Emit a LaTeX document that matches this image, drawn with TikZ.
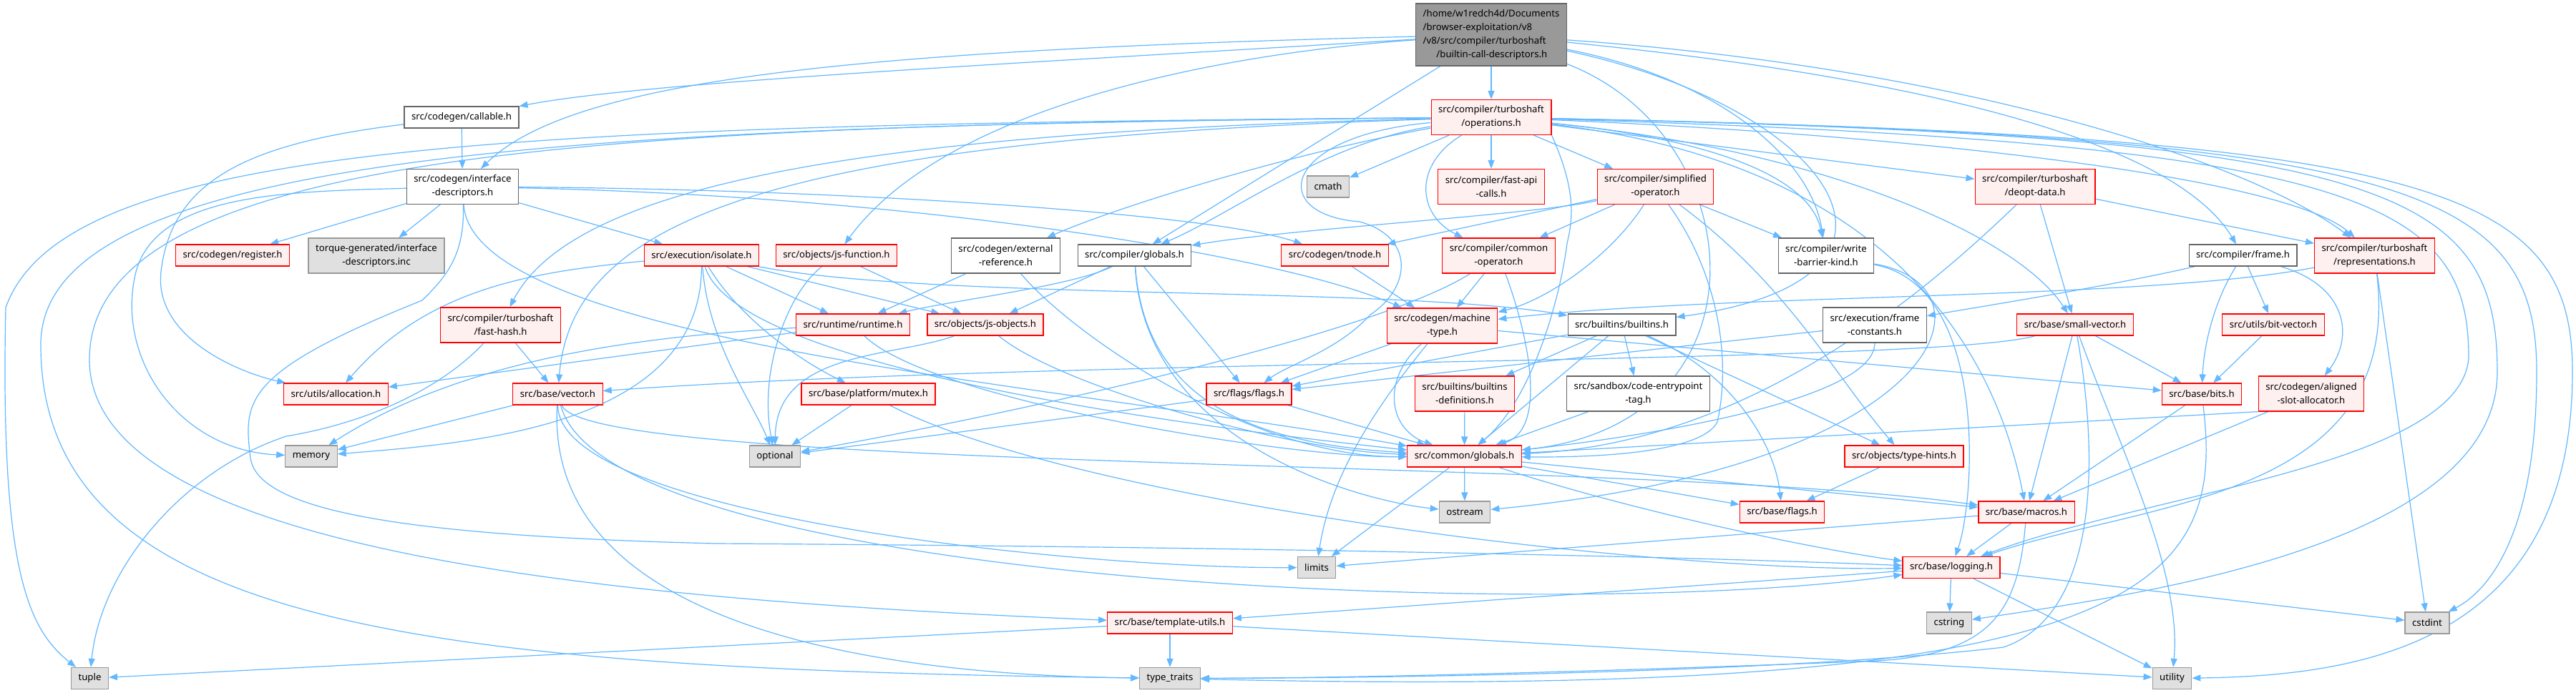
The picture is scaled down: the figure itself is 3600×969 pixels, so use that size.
\documentclass[tikz,border=0pt]{standalone}
\usepackage{fontspec}
\usepackage{tikz}
\usetikzlibrary{arrows.meta}
\newfontfamily\doxyfont{Noto Sans}
\definecolor{incEdge}{HTML}{63B8FF}
\definecolor{hdrFill}{HTML}{FFF0F0}
\definecolor{hdrLine}{HTML}{FF0000}
\definecolor{sysFill}{HTML}{E0E0E0}
\definecolor{sysLine}{HTML}{999999}
\definecolor{plainLine}{HTML}{666666}
\definecolor{rootFill}{HTML}{999999}
\pgfdeclarelayer{edges}
\pgfsetlayers{edges,main}

\begin{document}
\begin{tikzpicture}[x=0.5pt,y=-0.5pt,
  box/.style={draw, line width=0.6pt, inner xsep=5pt, inner ysep=1pt, minimum height=15pt,
    align=center, font=\doxyfont\fontsize{6.6}{9.5}\selectfont},
  hdrbox/.style={box, draw=hdrLine, fill=hdrFill},
  sysbox/.style={box, draw=sysLine, fill=sysFill},
  plainbox/.style={box, draw=plainLine, fill=white},
  rootbox/.style={box, draw=plainLine, fill=rootFill, align=left, minimum height=43.5pt},
  twoline/.style={minimum height=24.5pt},
  incl/.style={draw=incEdge, line width=0.6pt, -{Triangle[length=6pt,width=4.5pt]}}]
\useasboundingbox (0,0) rectangle (3600,969);

\node[rootbox] (root) at (2084,48.5) {/home/w1redch4d/Documents\\/browser-exploitation/v8\\/v8/src/compiler/turboshaft\\\hspace*{9.4pt}/builtin-call-descriptors.h};
\node[hdrbox, twoline] (ops) at (2084,164) {src/compiler/turboshaft\\/operations.h};
\node[plainbox] (callable) at (645,164) {src/codegen/callable.h};
\node[plainbox, twoline] (ifdesc) at (646.5,261) {src/codegen/interface\\-descriptors.h};
\node[hdrbox] (register) at (325,357) {src/codegen/register.h};
\node[sysbox, twoline] (torque) at (526,357.5) {torque-generated/interface\\-descriptors.inc};
\node[hdrbox, twoline] (fasthash) at (699.5,454.5) {src/compiler/turboshaft\\/fast-hash.h};
\node[hdrbox] (isolate) at (980.5,357) {src/execution/isolate.h};
\node[hdrbox] (jsfunc) at (1169,357) {src/objects/js-function.h};
\node[plainbox, twoline] (extref) at (1405.5,357.5) {src/codegen/external\\-reference.h};
\node[plainbox] (compglob) at (1585.5,357) {src/compiler/globals.h};
\node[hdrbox] (tnode) at (1865.5,357) {src/codegen/tnode.h};
\node[sysbox] (cmath) at (1856,261) {cmath};
\node[hdrbox, twoline] (fastapi) at (2084,261) {src/compiler/fast-api\\-calls.h};
\node[hdrbox, twoline] (simplop) at (2313.5,261) {src/compiler/simplified\\-operator.h};
\node[hdrbox, twoline] (commonop) at (2094.5,357.5) {src/compiler/common\\-operator.h};
\node[plainbox, twoline] (wbarrier) at (2552,357.5) {src/compiler/write\\-barrier-kind.h};
\node[hdrbox, twoline] (deopt) at (2844,261) {src/compiler/turboshaft\\/deopt-data.h};
\node[plainbox] (frame) at (3134.5,357) {src/compiler/frame.h};
\node[hdrbox, twoline] (repr) at (3318.5,357.5) {src/compiler/turboshaft\\/representations.h};
\node[hdrbox] (runtime) at (1192,454) {src/runtime/runtime.h};
\node[hdrbox] (jsobj) at (1377,454) {src/objects/js-objects.h};
\node[hdrbox, twoline] (mtype) at (2015.5,455.5) {src/codegen/machine\\-type.h};
\node[plainbox] (builtins) at (2266.5,454) {src/builtins/builtins.h};
\node[plainbox, twoline] (fconst) at (2620,454.5) {src/execution/frame\\-constants.h};
\node[hdrbox] (smallvec) at (2900,454) {src/base/small-vector.h};
\node[hdrbox] (bitvec) at (3177,454) {src/utils/bit-vector.h};
\node[hdrbox] (alloc) at (469.5,551) {src/utils/allocation.h};
\node[hdrbox] (vector) at (779.5,551) {src/base/vector.h};
\node[hdrbox] (mutex) at (1213.5,551) {src/base/platform/mutex.h};
\node[hdrbox] (flags) at (1745.5,551) {src/flags/flags.h};
\node[hdrbox, twoline] (bdefs) at (2047,550.5) {src/builtins/builtins\\-definitions.h};
\node[plainbox, twoline] (entrytag) at (2289.5,550.5) {src/sandbox/code-entrypoint\\-tag.h};
\node[hdrbox] (bits) at (3077,551) {src/base/bits.h};
\node[hdrbox, twoline] (aligned) at (3230,550.5) {src/codegen/aligned\\-slot-allocator.h};
\node[sysbox] (memory) at (435,638) {memory};
\node[sysbox] (optional) at (1083,638) {optional};
\node[hdrbox] (globals) at (2046.5,638) {src/common/globals.h};
\node[hdrbox] (typehints) at (2661,638) {src/objects/type-hints.h};
\node[sysbox] (ostream) at (2047,716) {ostream};
\node[hdrbox] (bflags) at (2490.5,716) {src/base/flags.h};
\node[hdrbox] (macros) at (2832,716) {src/base/macros.h};
\node[sysbox] (limits) at (1840,793.5) {limits};
\node[hdrbox] (logging) at (2727,793.5) {src/base/logging.h};
\node[hdrbox] (tutils) at (1635,871) {src/base/template-utils.h};
\node[sysbox] (cstring) at (2724,871) {cstring};
\node[sysbox] (cstdint) at (3392,871) {cstdint};
\node[sysbox] (tuple) at (125.5,948.5) {tuple};
\node[sysbox] (ttraits) at (1635,948.5) {type\_traits};
\node[sysbox] (utility) at (3035.5,948.5) {utility};

\begin{pgfonlayer}{edges}
\fill[white] (0,0) rectangle (3600,969);
\draw[incl] (root) -- (ops);
\draw[incl] (root) .. controls (1400,90) and (900,115) .. (callable);
\draw[incl] (root) .. controls (1200,70) and (800,110) .. (ifdesc);
\draw[incl] (root) .. controls (1700,75) and (1320,150) .. (jsfunc);
\draw[incl] (root) -- (compglob);
\draw[incl] (root) .. controls (2400,110) and (2530,220) .. (wbarrier);
\draw[incl] (root) .. controls (2700,110) and (3040,200) .. (frame);
\draw[incl] (root) .. controls (2750,95) and (3150,230) .. (repr);
\draw[incl] (root) .. controls (2560,150) and (2730,390) .. (builtins);
\draw[incl] (root) .. controls (2450,190) and (2480,590) .. (globals);

\draw[incl] (ops) -- (cmath);
\draw[incl] (ops) -- (fastapi);
\draw[incl] (ops) -- (simplop);
\draw[incl] (ops) .. controls (1975,230) and (1980,300) .. (commonop);
\draw[incl] (ops) .. controls (2400,195) and (2530,250) .. (wbarrier);
\draw[incl] (ops) -- (deopt);
\draw[incl] (ops) .. controls (2700,190) and (3200,250) .. (repr);
\draw[incl] (ops) .. controls (1200,185) and (800,260) .. (fasthash);
\draw[incl] (ops) .. controls (1800,215) and (1560,290) .. (extref);
\draw[incl] (ops) .. controls (1850,200) and (1720,300) .. (compglob);
\draw[incl] (ops) .. controls (1100,195) and (800,300) .. (vector);
\draw[incl] (ops) .. controls (2550,210) and (2820,330) .. (smallvec);
\draw[incl] (ops) .. controls (2650,230) and (2790,500) .. (macros);
\draw[incl] (ops.south east) .. controls (2200,260) and (2200,300) .. (2190,340) .. controls (2180,420) and (2140,560) .. (globals);
\draw[incl] (ops) .. controls (1790,190) and (1770,300) .. (1900,310) .. controls (1975,330) and (1975,400) .. (1915,440) .. controls (1870,490) and (1800,510) .. (flags);
\draw[incl] (ops) .. controls (700,175) and (90,200) .. (8,430) .. controls (0,800) and (40,880) .. (tuple);
\draw[incl] (ops) .. controls (800,175) and (60,215) .. (57,480) .. controls (55,880) and (600,935) .. (ttraits);
\draw[incl] (ops) .. controls (900,175) and (130,200) .. (125,500) .. controls (120,780) and (900,840) .. (tutils);
\draw[incl] (ops) .. controls (3300,200) and (3450,280) .. (3450,500) .. controls (3440,650) and (3000,690) .. (logging);
\draw[incl] (ops) .. controls (3330,190) and (3490,260) .. (3490,520) .. controls (3490,760) and (3000,830) .. (cstring);
\draw[incl] (ops) .. controls (3360,190) and (3545,260) .. (3545,520) .. controls (3545,760) and (3470,830) .. (cstdint);
\draw[incl] (ops) .. controls (3400,190) and (3595,260) .. (3595,520) .. controls (3595,900) and (3300,945) .. (utility);

\draw[incl] (callable) -- (ifdesc);
\draw[incl] (callable) .. controls (350,200) and (240,250) .. (225,380) .. controls (215,470) and (330,520) .. (alloc);

\draw[incl] (ifdesc) -- (register);
\draw[incl] (ifdesc) -- (torque);
\draw[incl] (ifdesc) -- (isolate);
\draw[incl] (ifdesc) .. controls (1200,265) and (1700,300) .. (tnode);
\draw[incl] (ifdesc) .. controls (1300,275) and (1800,360) .. (mtype);
\draw[incl] (ifdesc) .. controls (400,268) and (220,270) .. (190,380) .. controls (160,500) and (250,630) .. (memory);
\draw[incl] (ifdesc) .. controls (660,480) and (1500,540) .. (globals);
\draw[incl] (ifdesc) .. controls (650,360) and (620,390) .. (590,420) .. controls (340,520) and (340,560) .. (350,640) .. controls (360,720) and (600,750) .. (1000,760) .. controls (1800,765) and (2400,780) .. (logging);

\draw[incl] (fasthash) -- (vector);
\draw[incl] (fasthash) .. controls (620,540) and (520,590) .. (400,610) .. controls (250,660) and (140,800) .. (tuple);

\draw[incl] (isolate) -- (runtime);
\draw[incl] (isolate) -- (jsobj);
\draw[incl] (isolate) .. controls (1030,440) and (1110,500) .. (mutex);
\draw[incl] (isolate) .. controls (750,380) and (600,400) .. (alloc);
\draw[incl] (isolate) .. controls (980,600) and (650,620) .. (memory);
\draw[incl] (isolate) .. controls (990,480) and (1050,560) .. (optional);
\draw[incl] (isolate) .. controls (1300,420) and (1950,400) .. (builtins);
\draw[incl] (isolate) .. controls (1030,520) and (1700,600) .. (globals);

\draw[incl] (jsfunc) -- (jsobj);
\draw[incl] (jsfunc) .. controls (1100,410) and (1060,520) .. (optional);

\draw[incl] (extref) -- (runtime);
\draw[incl] (extref) .. controls (1500,470) and (1750,640) .. (globals);

\draw[incl] (compglob) .. controls (1500,400) and (1330,420) .. (runtime);
\draw[incl] (compglob) -- (jsobj);
\draw[incl] (compglob) -- (flags);
\draw[incl] (compglob) .. controls (1600,560) and (1750,620) .. (globals);
\draw[incl] (compglob) .. controls (1600,620) and (1900,700) .. (ostream);

\draw[incl] (runtime) -- (alloc);
\draw[incl] (runtime) .. controls (900,470) and (650,500) .. (memory);
\draw[incl] (runtime) .. controls (1300,560) and (1800,640) .. (globals);

\draw[incl] (jsobj) .. controls (1250,500) and (1085,490) .. (optional);
\draw[incl] (jsobj) .. controls (1480,540) and (1800,630) .. (globals);

\draw[incl] (mutex) -- (optional);
\draw[incl] (mutex) .. controls (1500,700) and (2300,800) .. (logging);

\draw[incl] (simplop) -- (commonop);
\draw[incl] (simplop) -- (wbarrier);
\draw[incl] (simplop) -- (tnode);
\draw[incl] (simplop) .. controls (2150,300) and (1800,320) .. (compglob);
\draw[incl] (simplop) .. controls (2250,360) and (2160,420) .. (mtype);
\draw[incl] (simplop) .. controls (2400,380) and (2420,500) .. (2400,590) .. controls (2380,630) and (2250,640) .. (globals);
\draw[incl] (simplop) .. controls (2500,400) and (2560,520) .. (typehints);

\draw[incl] (commonop) -- (mtype);
\draw[incl] (commonop) .. controls (2140,480) and (2160,600) .. (globals);
\draw[incl] (commonop) .. controls (1900,480) and (1300,600) .. (optional);

\draw[incl] (wbarrier) .. controls (2800,400) and (2720,650) .. (ostream);
\draw[incl] (wbarrier) .. controls (2780,400) and (2760,700) .. (logging);

\draw[incl] (deopt) -- (smallvec);
\draw[incl] (deopt) -- (repr);
\draw[incl] (deopt) .. controls (2700,400) and (2450,620) .. (globals);

\draw[incl] (frame) .. controls (2950,400) and (2760,430) .. (fconst);
\draw[incl] (frame) .. controls (3095,420) and (3080,480) .. (bits);
\draw[incl] (frame) -- (bitvec);
\draw[incl] (frame) .. controls (3280,400) and (3290,470) .. (aligned);

\draw[incl] (repr) .. controls (3000,420) and (2400,410) .. (mtype);
\draw[incl] (repr) -- (cstdint);
\draw[incl] (repr) .. controls (3360,700) and (3000,700) .. (logging);

\draw[incl] (tnode) -- (mtype);
\draw[incl] (mtype) .. controls (1930,560) and (1860,660) .. (limits);
\draw[incl] (mtype) .. controls (1930,530) and (1940,600) .. (globals);
\draw[incl] (mtype) -- (flags);
\draw[incl] (mtype) -- (bits);

\draw[incl] (builtins) -- (bdefs);
\draw[incl] (builtins) -- (entrytag);
\draw[incl] (builtins) -- (globals);
\draw[incl] (builtins) -- (typehints);
\draw[incl] (builtins) .. controls (2420,520) and (2480,620) .. (bflags);
\draw[incl] (builtins) -- (flags);
\draw[incl] (bdefs) -- (globals);
\draw[incl] (entrytag) -- (globals);

\draw[incl] (fconst) .. controls (2620,560) and (2300,610) .. (globals);
\draw[incl] (fconst) -- (flags);

\draw[incl] (smallvec) -- (bits);
\draw[incl] (smallvec) -- (macros);
\draw[incl] (smallvec) .. controls (2700,510) and (1500,500) .. (vector);
\draw[incl] (smallvec) .. controls (2960,620) and (3050,800) .. (utility);
\draw[incl] (smallvec) .. controls (2935,650) and (2930,860) .. (2800,905) .. controls (2500,940) and (1950,948) .. (ttraits);

\draw[incl] (bitvec) -- (bits);
\draw[incl] (bits) -- (macros);
\draw[incl] (bits) .. controls (3110,820) and (3000,980) .. (ttraits);
\draw[incl] (aligned) -- (macros);
\draw[incl] (aligned.south west) -- (globals);

\draw[incl] (flags) -- (optional);
\draw[incl] (flags) -- (globals);

\draw[incl] (vector) -- (memory);
\draw[incl] (vector) .. controls (780,720) and (1500,795) .. (limits);
\draw[incl] (vector) .. controls (760,900) and (1300,945) .. (ttraits);
\draw[incl] (vector) .. controls (820,660) and (2300,640) .. (macros);
\draw[incl] (vector) .. controls (850,820) and (2200,870) .. (logging);

\draw[incl] (globals) -- (ostream);
\draw[incl] (globals) -- (limits);
\draw[incl] (globals) -- (bflags);
\draw[incl] (globals) -- (macros);
\draw[incl] (globals) .. controls (2300,720) and (2550,770) .. (logging);
\draw[incl] (typehints) -- (bflags);

\draw[incl] (macros) -- (logging);
\draw[incl] (macros) -- (limits);
\draw[incl] (macros) .. controls (2820,860) and (2780,920) .. (2600,925) .. controls (2200,940) and (1900,948) .. (ttraits);

\draw[incl] (logging) -- (cstring);
\draw[incl] (logging) -- (cstdint);
\draw[incl] (logging) -- (utility);
\draw[incl] (logging) -- (tutils);

\draw[incl] (tutils) -- (tuple);
\draw[incl] (tutils) -- (ttraits);
\draw[incl] (tutils) -- (utility);
\end{pgfonlayer}
\end{tikzpicture}
\end{document}
